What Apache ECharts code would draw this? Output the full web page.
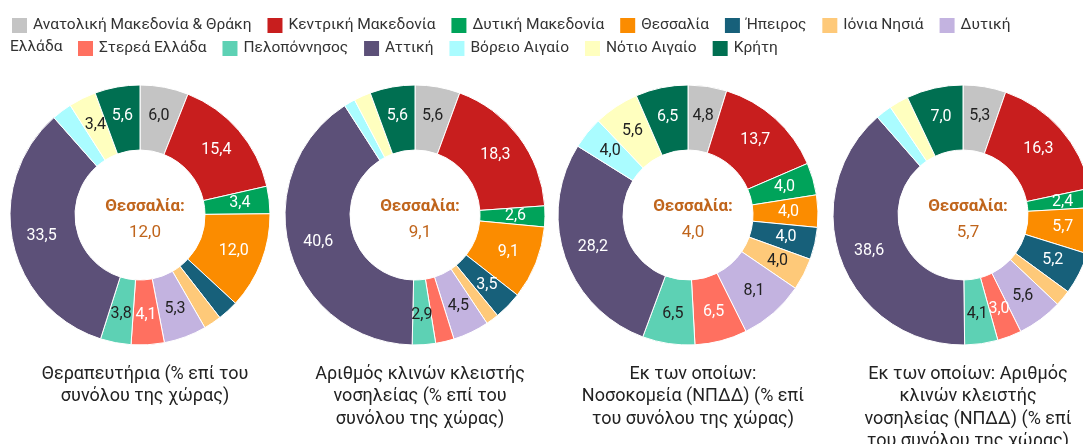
<!DOCTYPE html>
<html>
<head>
<meta charset="utf-8">
<script src="https://cdn.jsdelivr.net/npm/echarts@6/dist/echarts.min.js"></script>
<style>
  html, body { margin: 0; padding: 0; background: #fff; }
  #chart { width: 1083px; height: 444px; }
</style>
</head>
<body>
<div id="chart"></div>
<script>
// περιφέρειες (σειρά υπομνήματος και φετών)
var regions = [
  'Ανατολική Μακεδονία & Θράκη', 'Κεντρική Μακεδονία', 'Δυτική Μακεδονία', 'Θεσσαλία',
  'Ήπειρος', 'Ιόνια Νησιά', 'Δυτική Ελλάδα', 'Στερεά Ελλάδα', 'Πελοπόννησος',
  'Αττική', 'Βόρειο Αιγαίο', 'Νότιο Αιγαίο', 'Κρήτη'
];

// % επί του συνόλου της χώρας
var therapeftiria = [6.0, 15.4, 3.4, 12.0, 2.6, 2.2, 5.3, 4.1, 3.8, 33.5, 2.5, 3.4, 5.6];
var klines        = [5.6, 18.3, 2.6, 9.1, 3.5, 1.6, 4.5, 2.3, 2.9, 40.6, 1.4, 2.1, 5.6];
var nosokomeia    = [4.8, 13.7, 4.0, 4.0, 4.0, 4.0, 8.1, 6.5, 6.5, 28.2, 4.0, 5.6, 6.5];
var klinesNpdd    = [5.3, 16.3, 2.4, 5.7, 5.2, 2.0, 5.6, 3.0, 4.1, 38.6, 2.0, 2.4, 7.0];

// φέτες χωρίς ετικέτα στο πρωτότυπο
var noLabel1 = ['Ήπειρος', 'Ιόνια Νησιά', 'Βόρειο Αιγαίο'];
var noLabel2 = ['Ιόνια Νησιά', 'Στερεά Ελλάδα', 'Βόρειο Αιγαίο', 'Νότιο Αιγαίο'];
var noLabel3 = [];
var noLabel4 = ['Ιόνια Νησιά', 'Βόρειο Αιγαίο', 'Νότιο Αιγαίο'];

var titles = [
  'Θεραπευτήρια (% επί του\nσυνόλου της χώρας)',
  'Αριθμός κλινών κλειστής\nνοσηλείας (% επί του\nσυνόλου της χώρας)',
  'Εκ των οποίων:\nΝοσοκομεία (ΝΠΔΔ) (% επί\nτου συνόλου της χώρας)',
  'Εκ των οποίων: Αριθμός\nκλινών κλειστής\nνοσηλείας (ΝΠΔΔ) (% επί\nτου συνόλου της χώρας)'
];

var colors = ['#c4c4c4', '#c81e1e', '#00a35a', '#fb8c00', '#17607a', '#fec979', '#c3b3e0',
              '#ff7060', '#5dd1b4', '#5c5078', '#aafcff', '#ffffbf', '#006f51'];
var labelColors = ['#222', '#fff', '#fff', '#fff', '#fff', '#222', '#222',
                   '#fff', '#222', '#fff', '#222', '#222', '#fff'];

var fmt = function (v) { return v.toFixed(1).replace('.', ','); };

var chart = echarts.init(document.getElementById('chart'));

var sets = [therapeftiria, klines, nosokomeia, klinesNpdd];
var hidden = [noLabel1, noLabel2, noLabel3, noLabel4];
var centersX = [140, 415, 688, 963];
var centerY = 215;

var series = [];
var title = [];
sets.forEach(function (vals, k) {
  series.push({
    type: 'pie',
    center: [centersX[k], centerY],
    radius: [65, 130],
    startAngle: 90,
    clockwise: true,
    avoidLabelOverlap: false,
    itemStyle: { borderColor: '#fff', borderWidth: 1 },
    label: {
      position: 'inside',
      fontFamily: 'Roboto',
      fontSize: 16,
      formatter: function (p) { return fmt(p.value); }
    },
    labelLine: { show: false },
    emphasis: { scale: false },
    data: regions.map(function (r, i) {
      return {
        name: r,
        value: vals[i],
        itemStyle: { color: colors[i] },
        label: { color: labelColors[i], show: hidden[k].indexOf(r) < 0 }
      };
    })
  });
  // κείμενο στο κέντρο
  title.push({
    text: '{a|Θεσσαλία:}\n{b|' + fmt(vals[3]) + '}',
    left: centersX[k],
    top: centerY - 26,
    textAlign: 'center',
    textStyle: {
      rich: {
        a: { fontFamily: 'Roboto', fontSize: 17, fontWeight: 'bold', color: '#c0651c', lineHeight: 26, align: 'center' },
        b: { fontFamily: 'Roboto', fontSize: 17, fontWeight: 'normal', color: '#c0651c', lineHeight: 26, align: 'center' }
      }
    }
  });
  // τίτλος κάτω από κάθε πίτα
  title.push({
    text: titles[k],
    left: centersX[k],
    top: 358,
    textAlign: 'center',
    textStyle: { fontFamily: 'Roboto', fontSize: 18, fontWeight: 'normal', color: '#222', lineHeight: 22.5, align: 'center' }
  });
});

var legendBase = {
  icon: 'rect',
  itemWidth: 17,
  itemHeight: 17,
  itemGap: 14,
  orient: 'horizontal',
  padding: 0,
  textStyle: { fontFamily: 'Roboto', fontSize: 15.5, color: '#333' }
};

chart.setOption({
  animation: false,
  title: title,
  legend: [
    Object.assign({}, legendBase, {
      left: 10, top: 16, width: 1070,
      data: regions.slice(0, 7),
      formatter: function (n) { return n === 'Δυτική Ελλάδα' ? 'Δυτική' : n; }
    }),
    Object.assign({}, legendBase, {
      left: 76, top: 39, width: 1000,
      data: regions.slice(7)
    })
  ],
  graphic: [{
    type: 'text',
    left: 10,
    top: 39,
    style: { text: 'Ελλάδα', font: '15.5px Roboto', fill: '#333', lineHeight: 17, verticalAlign: 'top' }
  }],
  series: series
});
</script>
</body>
</html>
